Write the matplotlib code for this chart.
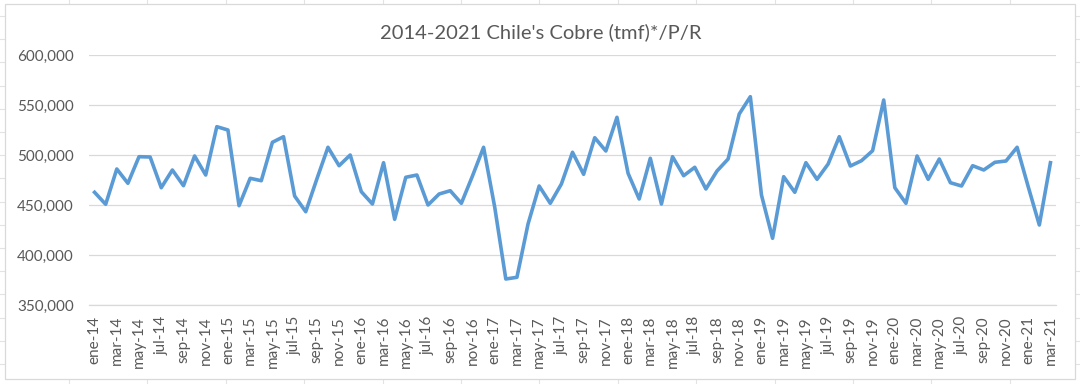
import numpy as np
import matplotlib
matplotlib.use("Agg")
from matplotlib import pyplot as plt
from matplotlib import rcParams
from matplotlib.ticker import FuncFormatter

rcParams["font.family"] = ["Lato", "DejaVu Sans"]

months = ["ene", "feb", "mar", "abr", "may", "jun",
          "jul", "ago", "sep", "oct", "nov", "dic"]
years = [14, 15, 16, 17, 18, 19, 20, 21]
labels = [f"{m}-{y}" for y in years for m in months][:87]

# toneladas métricas de cobre fino, mensual ene-14 .. mar-21
cobre = [
    462700, 450700, 486000, 471700, 498300, 498000, 467300, 485000, 469300, 499000, 480000, 528300,
    525000, 449300, 476700, 474300, 512700, 518300, 459000, 443300, 476000, 507700, 489300, 500000,
    463300, 451000, 492300, 435700, 477700, 480000, 450000, 461000, 464300, 451700, 479000, 507700,
    448000, 376000, 377700, 431000, 469000, 451700, 471000, 502700, 480700, 517300, 504000, 537700,
    481700, 456000, 496700, 451000, 498300, 479300, 487700, 466000, 484000, 496000, 541000, 558300,
    460000, 416700, 478300, 462700, 492300, 475700, 491000, 518300, 489000, 494300, 504300, 555000,
    467300, 451700, 499000, 475700, 496000, 472300, 469000, 489300, 485000, 492700, 494000, 507700,
    468300, 430000, 492300,
]

W, H = 1080, 384
fig = plt.figure(figsize=(W / 100, H / 100), dpi=100)

# background: spreadsheet cells with the chart object on top
bg = fig.add_axes([0, 0, 1, 1], zorder=-1)
bg.set_xlim(0, W)
bg.set_ylim(H, 0)
bg.axis("off")
for cx in np.arange(69, W, 78.4):
    bg.axvline(cx, color="#e3e3e3", lw=0.8)
for cy in np.arange(16, H, 23.2):
    bg.axhline(cy, color="#e3e3e3", lw=0.8)
bg.add_patch(plt.Rectangle((4.5, 3.5), 1075 - 4.5, 379 - 3.5, facecolor="white",
                           edgecolor="#d9d9d9", lw=0.9, zorder=3))

ax = fig.add_axes([89 / W, 1 - 305 / H, (1056 - 89) / W, (305 - 55) / H])
ax.set_facecolor("none")

x = np.arange(len(cobre))
ax.plot(x, cobre, color="#5b9bd5", lw=2.6, solid_joinstyle="round", zorder=3)

ax.set_xlim(-0.5, len(cobre) - 0.5)
ax.set_ylim(350000, 600000)
ax.set_yticks(np.arange(350000, 600001, 50000))
ax.yaxis.set_major_formatter(FuncFormatter(lambda v, p: f"{int(v):,}"))
ax.set_xticks(x[::2])
ax.set_xticklabels(labels[::2], rotation=90, va="top", ha="center")

ax.grid(axis="y", color="#d9d9d9", lw=0.9)
ax.set_axisbelow(True)
for s in ["top", "left", "right"]:
    ax.spines[s].set_visible(False)
ax.spines["bottom"].set_color("#d9d9d9")
ax.spines["bottom"].set_linewidth(0.9)
ax.tick_params(axis="both", length=0, colors="#595959", labelsize=11)
ax.tick_params(axis="y", pad=11)
ax.tick_params(axis="x", pad=8)

fig.text(541 / W, 1 - 32 / H, "2014-2021 Chile's Cobre (tmf)*/P/R",
         ha="center", va="center", fontsize=14.5, color="#595959")

fig.savefig("out.png", dpi=100)
